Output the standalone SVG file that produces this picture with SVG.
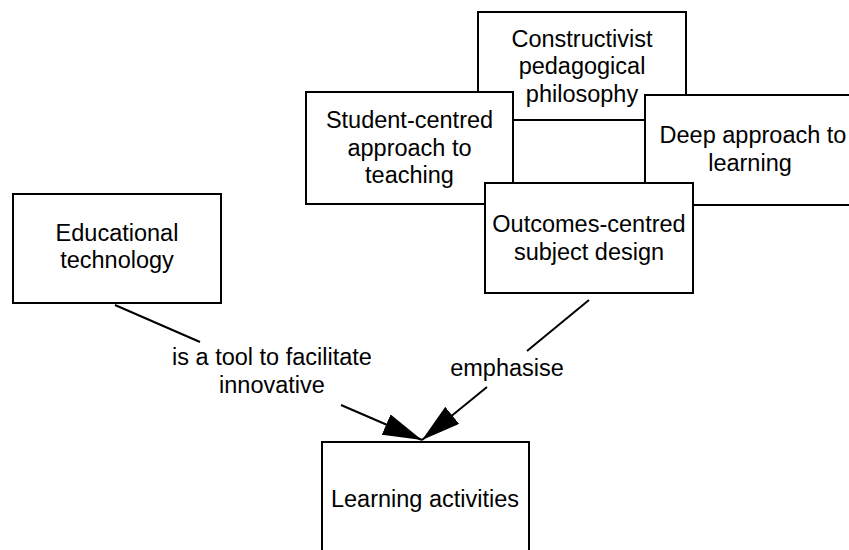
<svg xmlns="http://www.w3.org/2000/svg" width="849" height="550" viewBox="0 0 849 550">
  <style>
    .box { fill: #ffffff; stroke: #000000; stroke-width: 2; }
    .lbl { font-family: "Liberation Sans", Arial, sans-serif; font-size: 23.5px; fill: #000000; text-anchor: middle; }
    .edge { fill: none; stroke: #000000; stroke-width: 2; }
  </style>
  <defs>
    <marker id="arrow" markerUnits="userSpaceOnUse" markerWidth="40" markerHeight="22" refX="39" refY="11" orient="auto">
      <path d="M0,0 L39,11 L0,22 z" fill="#000000"/>
    </marker>
  </defs>

  <rect width="849" height="550" fill="#ffffff"/>

  <!-- concept nodes (later ones overlap earlier ones) -->
  <g id="constructivist">
    <rect class="box" x="478" y="12" width="208" height="108"/>
    <text class="lbl" x="582" y="47">Constructivist</text>
    <text class="lbl" x="582" y="74">pedagogical</text>
    <text class="lbl" x="582" y="102">philosophy</text>
  </g>
  <g id="student-centred">
    <rect class="box" x="306" y="92" width="207" height="112"/>
    <text class="lbl" x="409.5" y="128">Student-centred</text>
    <text class="lbl" x="409.5" y="156">approach to</text>
    <text class="lbl" x="409.5" y="183">teaching</text>
  </g>
  <g id="deep-approach">
    <rect class="box" x="645" y="95" width="225" height="110"/>
    <text class="lbl" x="753" y="143">Deep approach to</text>
    <text class="lbl" x="750" y="171">learning</text>
  </g>
  <g id="outcomes-centred">
    <rect class="box" x="485" y="183" width="208" height="110"/>
    <text class="lbl" x="589" y="232">Outcomes-centred</text>
    <text class="lbl" x="589" y="260">subject design</text>
  </g>
  <g id="educational-technology">
    <rect class="box" x="13" y="194" width="208" height="109"/>
    <text class="lbl" x="117" y="241">Educational</text>
    <text class="lbl" x="117" y="268">technology</text>
  </g>
  <g id="learning-activities">
    <rect class="box" x="322" y="442" width="207" height="130"/>
    <text class="lbl" x="425" y="507">Learning activities</text>
  </g>

  <!-- connectors with their link phrases -->
  <g id="connectors">
    <path class="edge" d="M115,305 L200,342"/>
    <path class="edge" d="M341,405 L422,440" marker-end="url(#arrow)"/>
    <text class="lbl" x="272" y="365">is a tool to facilitate</text>
    <text class="lbl" x="272" y="393">innovative</text>

    <path class="edge" d="M589,300 L527,351"/>
    <path class="edge" d="M487,387 L422,440" marker-end="url(#arrow)"/>
    <text class="lbl" x="507" y="376">emphasise</text>
  </g>
</svg>
